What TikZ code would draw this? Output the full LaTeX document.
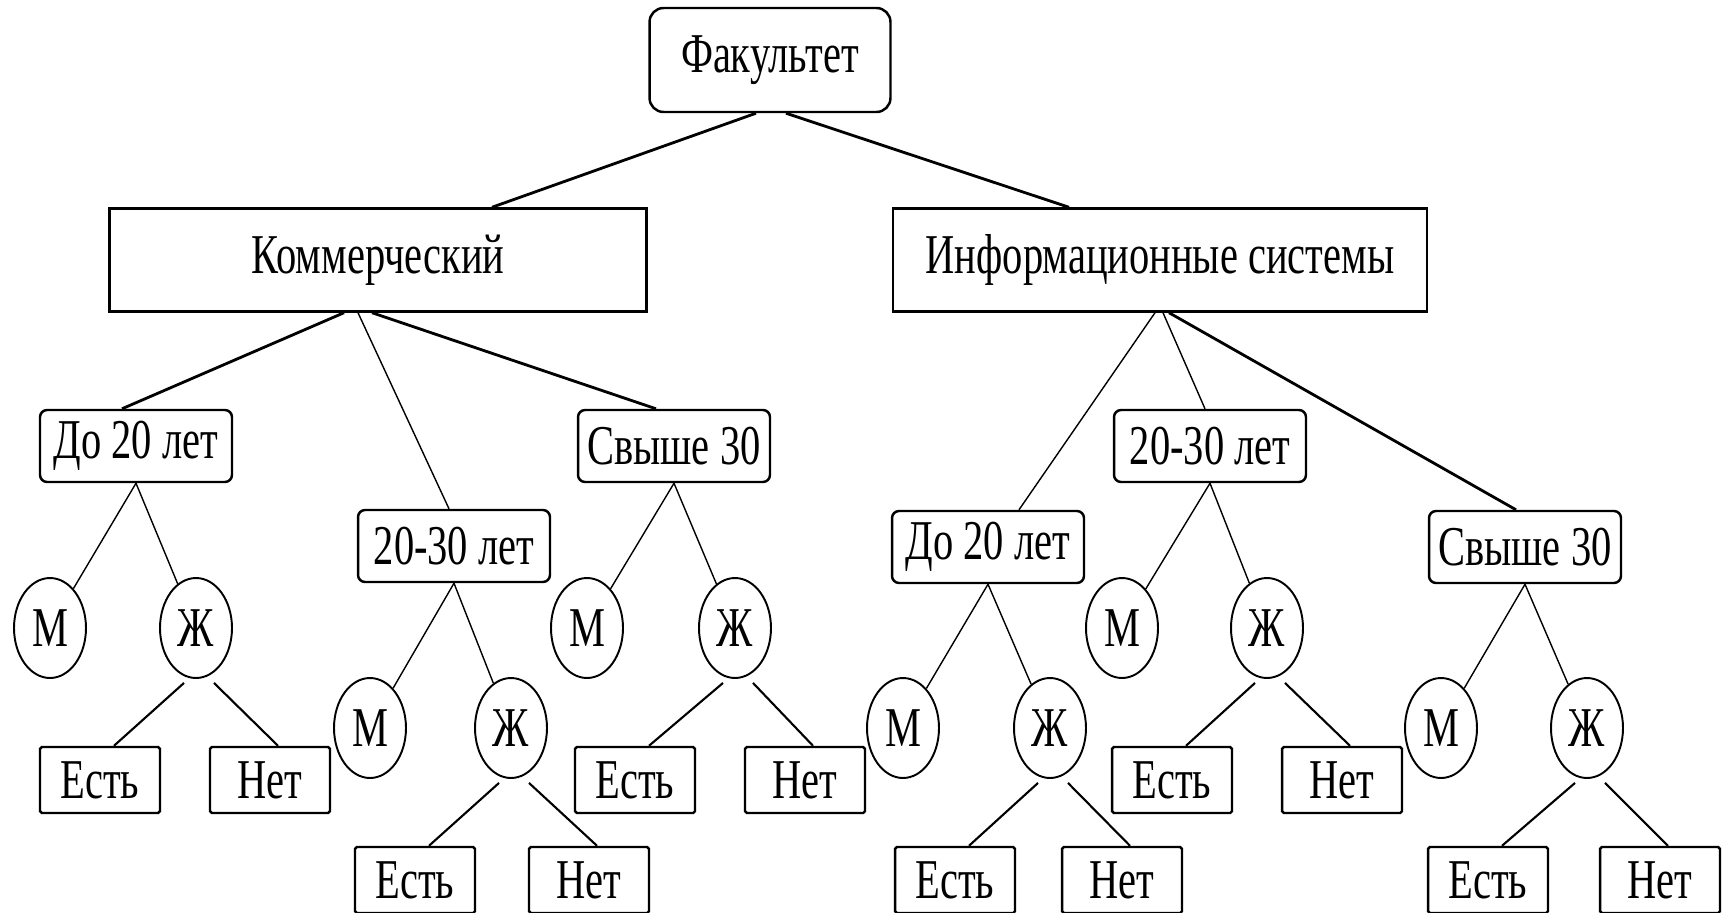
\documentclass[tikz,border=0pt]{standalone}
\usepackage{fontspec}
\usetikzlibrary{shapes.geometric,calc}
\newfontfamily\cond[FakeStretch=0.72]{Liberation Serif}

\begin{document}
\begin{tikzpicture}[x=0.02cm, y=-0.02cm,
    every node/.style={font=\cond\fontsize{32}{36}\selectfont, inner sep=0pt},
    top/.style={draw, line width=1.4pt, minimum height=2.06cm},
    age/.style={draw, line width=1.4pt, rounded corners=4pt, minimum width=3.84cm, minimum height=1.44cm},
    sex/.style={draw, ellipse, line width=1.1pt, minimum width=1.44cm, minimum height=2cm},
    leaf/.style={draw, line width=1.4pt, rounded corners=1pt, minimum width=2.4cm, minimum height=1.32cm},
    bold/.style={line width=1.6pt},
    thin/.style={line width=0.8pt},
    mid/.style={line width=1.2pt}]
  \useasboundingbox (0,0) rectangle (1725,913);

  % top levels
  \node[top, rounded corners=8pt, minimum width=4.82cm, minimum height=2.08cm] (fak) at (770,60) {Факультет};
  \node[top, minimum width=10.74cm] (kom) at (378,260) {Коммерческий};
  \node[top, minimum width=10.68cm] (inf) at (1160,260) {Информационные системы};

  \draw[bold] ($(fak.south)+(-14,0)$) -- ($(kom.north)+(114,0)$);
  \draw[bold] ($(fak.south)+(16,0)$) -- ($(inf.north)+(-91,0)$);

  % age groups
  \node[age] (kdo) at (136,446) {До 20 лет};
  \node[age] (kmid) at (454,546) {20-30 лет};
  \node[age] (kst) at (674,446) {Свыше 30};
  \node[age] (ido) at (988,547) {До 20 лет};
  \node[age] (imid) at (1210,446) {20-30 лет};
  \node[age] (ist) at (1525,547) {Свыше 30};

  \draw[bold] ($(kom.south)+(-34,0)$) -- ($(kdo.north)+(-14,0)$);
  \draw[thin] ($(kom.south)+(-20,0)$) -- ($(kmid.north)+(-5,0)$);
  \draw[bold] ($(kom.south)+(-6,0)$) -- ($(kst.north)+(-18,0)$);
  \draw[thin] ($(inf.south)+(-5,0)$) -- ($(ido.north)+(31,0)$);
  \draw[thin] ($(inf.south)+(3,0)$) -- ($(imid.north)+(-5,0)$);
  \draw[bold] ($(inf.south)+(9,0)$) -- ($(ist.north)+(-9,0)$);

  % sex and answers
  \foreach \p/\m/\z/\e/\n/\y/\ly in {kdo/50/196/100/270/628/780,
      kmid/370/511/415/589/728/880, kst/587/735/635/805/628/780,
      ido/903/1050/955/1122/728/880, imid/1122/1267/1172/1342/628/780,
      ist/1441/1587/1488/1660/728/880}{
    \node[sex] (\p-m) at (\m,\y) {М};
    \node[sex] (\p-z) at (\z,\y) {Ж};
    \node[leaf] (\p-e) at (\e,\ly) {Есть};
    \node[leaf] (\p-n) at (\n,\ly) {Нет};
    \draw[thin] (\p.south) -- (\p-m);
    \draw[thin] (\p.south) -- (\p-z);
    \draw[mid] ($(\p-z.south)+(-12,4)$) -- ($(\p-e.north)+(14,0)$);
    \draw[mid] ($(\p-z.south)+(18,4)$) -- ($(\p-n.north)+(8,0)$);
  }
\end{tikzpicture}
\end{document}
